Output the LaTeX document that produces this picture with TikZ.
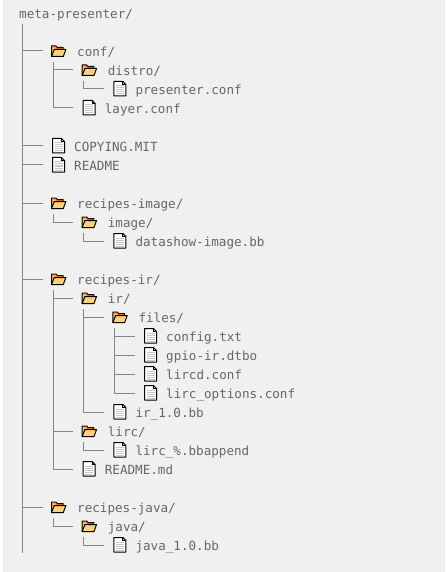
\documentclass[tikz,border=0pt]{standalone}
\usepackage{fontspec}
\setmonofont{DejaVu Sans Mono}
\usetikzlibrary{positioning}

\definecolor{panel}{HTML}{F0F0F0}
\definecolor{treeink}{HTML}{666666}
\definecolor{treerule}{HTML}{858585}
\definecolor{folderfill}{HTML}{FFD27A}
\definecolor{foldertab}{HTML}{C8400F}

\tikzset{
  pics/foldericon/.style={code={
    \filldraw[fill=folderfill!70!orange, draw=black, line width=1pt, line join=round] (-7,5.5) -- (-7,-5) -- (-2.5,-5) -- (-1.2,-3.5) -- (4.6,-3.5) -- (4.6,0) -- cycle;
    \draw[foldertab, line width=0.8pt] (-6.3,-4.2) -- (-2.8,-4.2) -- (-1.5,-2.7) -- (4,-2.7);
    \filldraw[fill=folderfill, draw=black, line width=1pt, line join=round] (-7,5.5) -- (-4.2,-1.5) -- (7.4,-1.5) -- (4.8,5.5) -- cycle;
  }},
  pics/fileicon/.style={code={
    \filldraw[fill=white, draw=black, line width=1pt, line join=round] (-6,-7.5) -- (3,-7.5) -- (6,-4.5) -- (6,7) -- (-6,7) -- cycle;
    \draw[black, line width=0.7pt] (3,-7.5) -- (3,-4.5) -- (6,-4.5);
    \foreach \k in {-3,-1,1,3,5} {
      \draw[black!22, line width=1pt] (-4,\k) -- (4,\k);
    }
  }},
}

\begin{document}
\begin{tikzpicture}[
    x=1pt, y=-1pt,
    itemicon/.style={minimum width=16pt, minimum height=16pt, inner sep=0pt, outer sep=0pt},
    itemlabel/.style={font=\ttfamily\fontsize{12.6pt}{15pt}\selectfont, text=treeink, inner sep=0pt, text height=12.5pt, text depth=2pt},
    treeline/.style={draw=treerule, line width=1pt, shorten <=3pt, shorten >=8pt},
]
\useasboundingbox (0,0) rectangle (445,572);
\fill[panel] (3,0) rectangle (445,572);

\node[itemlabel, anchor=west] (root) at (19,13) {meta-presenter/};
\coordinate (i0) at (20,21);
\coordinate (trunkend) at (22.5,553);

% row/depth/name
\foreach \r/\l/\t in {2/1/{conf/}, 3/2/{distro/}, 10/1/{recipes-image/}, 11/2/{image/}, 14/1/{recipes-ir/}, 15/2/{ir/}, 16/3/{files/}, 22/2/{lirc/}, 26/1/{recipes-java/}, 27/2/{java/}} {
  \node[itemicon] (i\r) at ({58.5+30.67*(\l-1)}, {13+19*\r}) {};
  \pic at (i\r) {foldericon};
  \node[itemlabel, right=10.5pt of i\r] (t\r) {\t};
}
\foreach \r/\l/\t in {4/3/presenter.conf, 5/2/layer.conf, 7/1/COPYING.MIT, 8/1/README, 12/3/datashow-image.bb, 17/4/config.txt, 18/4/gpio-ir.dtbo, 19/4/lircd.conf, 20/4/lirc\_options.conf, 21/3/ir\_1.0.bb, 23/3/lirc\_\%.bbappend, 24/2/README.md, 28/3/java\_1.0.bb} {
  \node[itemicon] (i\r) at ({58.5+30.67*(\l-1)}, {13+19*\r}) {};
  \pic at (i\r) {fileicon};
  \node[itemlabel, right=7.5pt of i\r] (t\r) {\t};
}

% parent/child
\foreach \p/\c in {0/2, 0/7, 0/8, 0/10, 0/14, 0/26, 2/3, 2/5, 3/4, 10/11, 11/12, 14/15, 14/22, 14/24, 15/16, 15/21, 16/17, 16/18, 16/19, 16/20, 22/23, 26/27, 27/28} {
  \draw[treeline] ([xshift=2.5pt]i\p.south west) |- (i\c.west);
}
\draw[treeline, shorten >=0pt] ([xshift=2.5pt]i0.south west) -- (trunkend);
\end{tikzpicture}
\end{document}
